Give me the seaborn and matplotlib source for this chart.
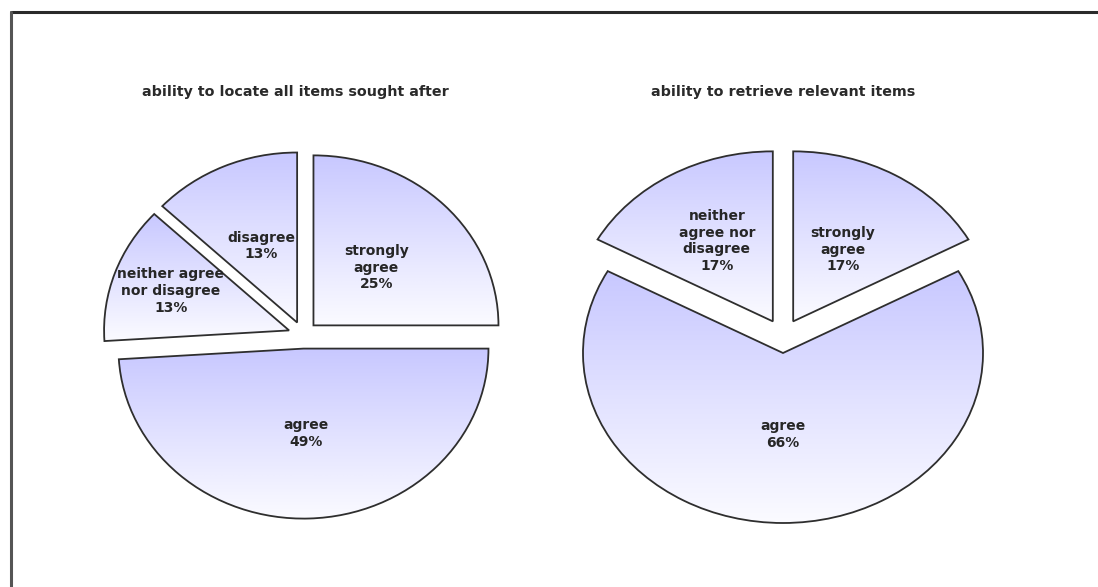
import numpy as np
import matplotlib
matplotlib.use("Agg")
import matplotlib.pyplot as plt
import seaborn as sns
from matplotlib.colors import LinearSegmentedColormap
from matplotlib.lines import Line2D

sns.set_theme(style="white")
plt.rcParams['font.family'] = ['DejaVu Sans']

# ---- data ----
left_title = "ability to locate all items sought after"
left_categories = ["strongly\nagree", "agree", "neither agree\nnor disagree", "disagree"]
left_values = [25, 49, 13, 13]

right_title = "ability to retrieve relevant items"
right_categories = ["strongly\nagree", "agree", "neither\nagree nor\ndisagree"]
right_values = [17, 66, 17]

# ---- style ----
W, H = 1098, 587
fig = plt.figure(figsize=(W / 100, H / 100), dpi=100)
fig.patch.set_facecolor("white")

grad_cmap = LinearSegmentedColormap.from_list("lav", ["#c8c8ff", "#fbfbff"])
gradient = np.linspace(0, 1, 256).reshape(-1, 1)
LIM = 1.2


def draw_pie(center_px, rx, ry, values, cats, title, explode, label_dist, title_dx):
    cx, cy = center_px
    wpx, hpx = 2 * LIM * rx, 2 * LIM * ry
    ax = fig.add_axes([(cx - wpx / 2) / W, (H - cy - hpx / 2) / H, wpx / W, hpx / H])
    wedges, _ = ax.pie(values, startangle=90, counterclock=False,
                       explode=[explode] * len(values), radius=1,
                       wedgeprops=dict(facecolor="none", edgecolor="#2e2e2e",
                                       linewidth=1.3, zorder=3))
    for w, cat, v, d in zip(wedges, cats, values, label_dist):
        path = w.get_path().transformed(w.get_patch_transform())
        ext = path.get_extents()
        im = ax.imshow(gradient, extent=[ext.x0, ext.x1, ext.y0, ext.y1],
                       cmap=grad_cmap, aspect="auto", origin="upper",
                       zorder=1, interpolation="bilinear")
        im.set_clip_path(w)
        mid = np.deg2rad((w.theta1 + w.theta2) / 2)
        x0, y0 = w.center
        ax.text(x0 + d * np.cos(mid), y0 + d * np.sin(mid), f"{cat}\n{v}%",
                ha="center", va="center", multialignment="center",
                fontsize=10, fontweight="bold", color="#262626",
                linespacing=1.25, zorder=4)
    ax.set_xlim(-LIM, LIM)
    ax.set_ylim(-LIM, LIM)
    ax.set_aspect("auto")
    ax.axis("off")
    top_px = cy - hpx / 2
    ax.text(0.5 + title_dx / wpx, 1 + (top_px - 92) / hpx, title,
            transform=ax.transAxes, ha="center", va="center",
            fontsize=10.3, fontweight="bold", color="#2a2a2a")
    return ax


draw_pie((303, 335), 185, 170, left_values, left_categories, left_title,
         0.08, [0.48, 0.5, 0.68, 0.49], -8)
draw_pie((783, 336), 200, 170, right_values, right_categories, right_title,
         0.1, [0.49, 0.48, 0.55], 0)

# frame lines (top and left)
fig.add_artist(Line2D([10.5 / W, 1.0], [1 - 12 / H, 1 - 12 / H],
                      transform=fig.transFigure, color="#2a2a2a", lw=2.2))
fig.add_artist(Line2D([10.5 / W, 10.5 / W], [0, 1 - 12 / H],
                      transform=fig.transFigure, color="#555555", lw=2.2))

fig.savefig("out.png", dpi=100, facecolor="white")
